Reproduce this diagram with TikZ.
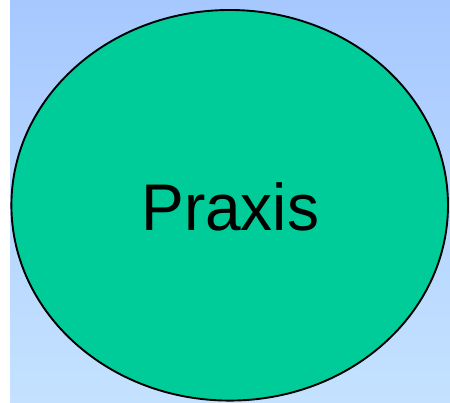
\documentclass[tikz,border=0pt]{standalone}
\usepackage{fontspec}
\setmainfont{Liberation Sans}
\definecolor{bgtop}{RGB}{166,200,255}
\definecolor{bgbot}{RGB}{196,226,255}
\definecolor{praxisgreen}{RGB}{0,204,153}
\tikzset{
  blob/.style={draw=black, line width=1.9pt, fill=praxisgreen},
  bigtext/.style={font=\fontsize{66}{78}\selectfont, anchor=base, inner sep=0pt}
}
\begin{document}
\begin{tikzpicture}[x=1pt,y=1pt]
  \useasboundingbox (0,0) rectangle (450,403);
  \fill[white] (0,0) rectangle (450,403);
  \shade[top color=bgtop, bottom color=bgbot] (10,0) rectangle (450,403);
  \draw[blob] (229.7,197.7) ellipse [x radius=218.3, y radius=195.3];
  \node[bigtext] (praxis) at (230.3,172.3) {\scalebox{0.97}[1]{Praxis}};
\end{tikzpicture}
\end{document}
